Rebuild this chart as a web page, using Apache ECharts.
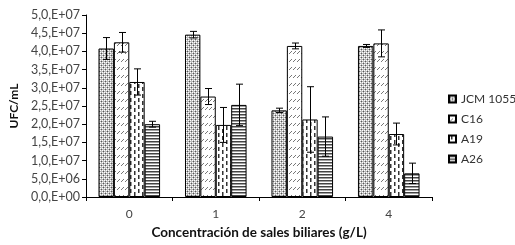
<!DOCTYPE html>
<html>
<head>
<meta charset="utf-8">
<script src="https://cdn.jsdelivr.net/npm/echarts@6/dist/echarts.min.js"></script>
<style>
  html, body { margin: 0; padding: 0; background: #fff; }
  #chart { width: 515px; height: 245px; }
</style>
</head>
<body>
<div id="chart"></div>
<script>
var categories = ['0', '1', '2', '4'];
var seriesNames = ['JCM 1055', 'C16', 'A19', 'A26'];
var jcmValues = [4.08e7, 4.46e7, 2.38e7, 4.15e7];
var c16Values = [4.25e7, 2.76e7, 4.15e7, 4.22e7];
var a19Values = [3.16e7, 1.98e7, 2.13e7, 1.73e7];
var a26Values = [2.00e7, 2.53e7, 1.66e7, 0.65e7];
var jcmErrors = [0.30e7, 0.09e7, 0.06e7, 0.04e7];
var c16Errors = [0.27e7, 0.22e7, 0.08e7, 0.37e7];
var a19Errors = [0.36e7, 0.48e7, 0.90e7, 0.30e7];
var a26Errors = [0.08e7, 0.57e7, 0.54e7, 0.28e7];

var allValues = [jcmValues, c16Values, a19Values, a26Values];
var allErrors = [jcmErrors, c16Errors, a19Errors, a26Errors];

// small canvas patterns to imitate the excel fills
function makePattern(w, h, paint) {
  var c = document.createElement('canvas');
  c.width = w; c.height = h;
  var ctx = c.getContext('2d');
  ctx.fillStyle = '#fff';
  ctx.fillRect(0, 0, w, h);
  paint(ctx);
  return { image: c, repeat: 'repeat' };
}

var patJcm = makePattern(4, 4, function (ctx) {
  ctx.fillStyle = '#b8b8b8';
  ctx.fillRect(0, 0, 4, 4);
  ctx.fillStyle = '#fff';
  ctx.fillRect(0, 0, 1, 1);
  ctx.fillRect(2, 2, 1, 1);
  ctx.fillRect(2, 0, 1, 1);
  ctx.fillRect(0, 2, 1, 1);
  ctx.fillStyle = '#555';
  ctx.fillRect(1, 1, 1, 1);
  ctx.fillRect(3, 3, 1, 1);
});
var patC16 = makePattern(8, 8, function (ctx) {
  ctx.strokeStyle = '#777';
  ctx.lineWidth = 1;
  ctx.beginPath();
  ctx.moveTo(1, 6); ctx.lineTo(4, 3);
  ctx.moveTo(5, 6); ctx.lineTo(8, 3);
  ctx.stroke();
});
var patA19 = makePattern(8, 7, function (ctx) {
  ctx.fillStyle = '#333';
  ctx.fillRect(2, 0, 1.5, 4);
  ctx.fillRect(6, 3, 1.5, 4);
});
var patA26 = makePattern(4, 3, function (ctx) {
  ctx.fillStyle = '#444';
  ctx.fillRect(0, 0, 4, 1.5);
});
var patterns = [patJcm, patC16, patA19, patA26];

var barPct = 0.178;

var errData = [];
for (var s = 0; s < 4; s++) {
  for (var k = 0; k < categories.length; k++) {
    errData.push([k, s, allValues[s][k], allErrors[s][k]]);
  }
}

function yFmt(v) {
  if (v === 0) return '0,0,E+00';
  var e = Math.floor(Math.log10(v) + 1e-9);
  var m = v / Math.pow(10, e);
  return m.toFixed(1).replace('.', ',') + ',E+' + (e < 10 ? '0' + e : e);
}

var font = 'Lato, "Open Sans", sans-serif';

var series = seriesNames.map(function (name, i) {
  return {
    name: name,
    type: 'bar',
    data: allValues[i],
    barWidth: (barPct * 100) + '%',
    barGap: '0%',
    itemStyle: { color: patterns[i], borderColor: '#000', borderWidth: 1 },
    emphasis: { disabled: true },
    z: 2
  };
});

series.push({
  type: 'custom',
  name: 'err',
  data: errData,
  z: 5,
  silent: true,
  renderItem: function (params, api) {
    var k = api.value(0), s = api.value(1), v = api.value(2), e = api.value(3);
    var catW = api.size([1, 0])[0];
    var bw = catW * barPct;
    var c = api.coord([k, v]);
    var x = Math.round(c[0] + (s - 1.5) * bw) + 0.5;
    var yTop = api.coord([k, v + e])[1];
    var yBot = api.coord([k, v - e])[1];
    var cap = 3.5;
    var st = { stroke: '#000', lineWidth: 1 };
    return {
      type: 'group',
      children: [
        { type: 'line', shape: { x1: x, y1: yTop, x2: x, y2: yBot }, style: st },
        { type: 'line', shape: { x1: x - cap, y1: yTop, x2: x + cap, y2: yTop }, style: st },
        { type: 'line', shape: { x1: x - cap, y1: yBot, x2: x + cap, y2: yBot }, style: st }
      ]
    };
  }
});

var myChart = echarts.init(document.getElementById('chart'), null, { renderer: 'canvas' });
var option = {
  animation: false,
  backgroundColor: '#fff',
  grid: { left: 71, right: 83, top: 15, bottom: 44 },
  legend: {
    data: seriesNames,
    orient: 'vertical',
    left: 448,
    top: 93,
    padding: 0,
    itemWidth: 7,
    itemHeight: 7,
    itemGap: 8,
    icon: 'rect',
    textStyle: { fontFamily: font, fontSize: 12, color: '#333', overflow: 'none' },
    selectedMode: false
  },
  xAxis: {
    type: 'category',
    data: categories,
    name: 'Concentración de sales biliares (g/L)',
    nameLocation: 'middle',
    nameGap: 29,
    nameTextStyle: { fontFamily: font, fontSize: 13.5, fontWeight: 'bold', color: '#111' },
    axisLine: { lineStyle: { color: '#000', width: 1 } },
    axisTick: { show: true, length: 4, inside: false, lineStyle: { color: '#000' } },
    axisLabel: { fontFamily: font, fontSize: 12, color: '#444', margin: 11 }
  },
  yAxis: {
    type: 'value',
    min: 0,
    max: 5e7,
    interval: 5e6,
    name: 'UFC/mL',
    nameLocation: 'middle',
    nameGap: 60,
    nameTextStyle: { fontFamily: font, fontSize: 12, fontWeight: 'bold', color: '#111' },
    axisLine: { show: true, lineStyle: { color: '#000', width: 1 } },
    axisTick: { show: true, length: 4, lineStyle: { color: '#000' } },
    splitLine: { show: false },
    axisLabel: { fontFamily: font, fontSize: 12.5, color: '#444', margin: 6, formatter: yFmt }
  },
  series: series
};
myChart.setOption(option);
</script>
</body>
</html>
